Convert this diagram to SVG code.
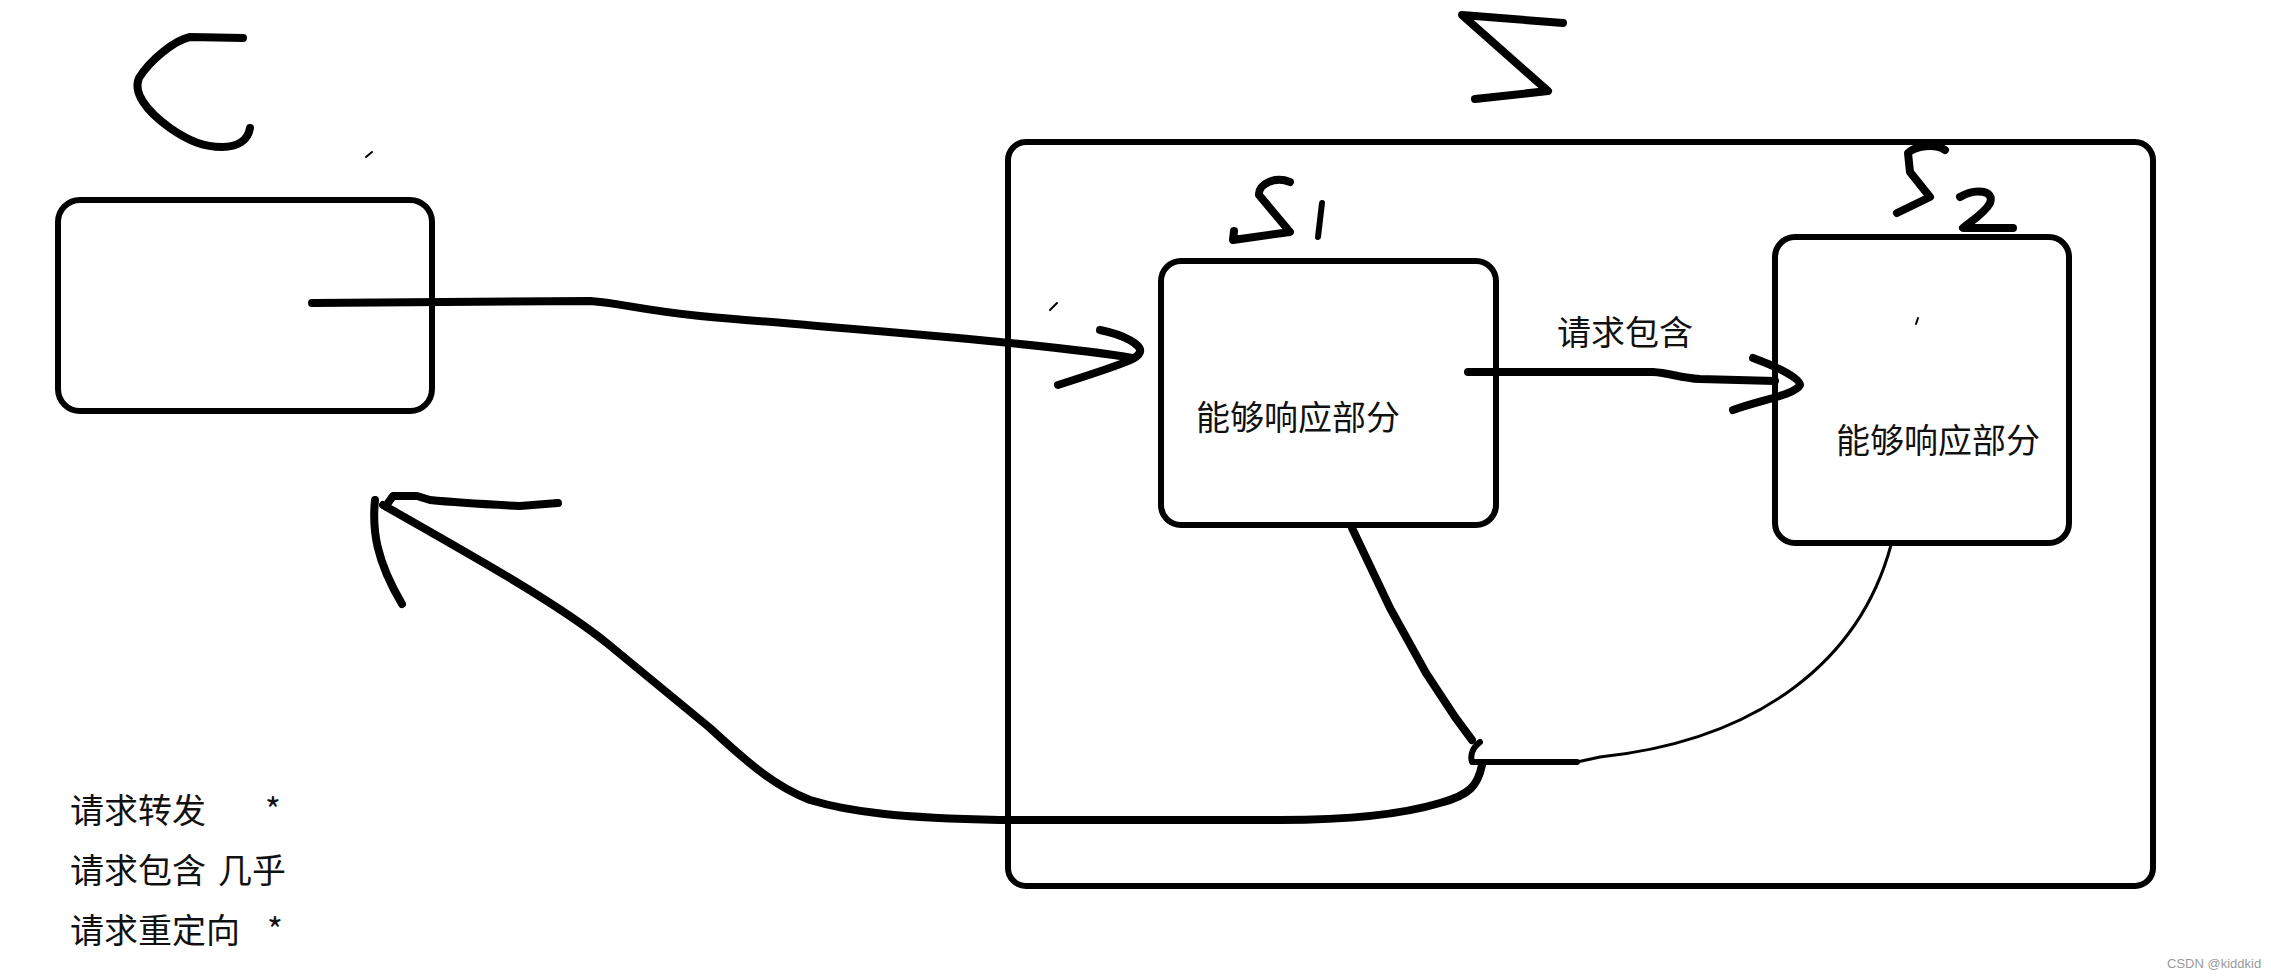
<svg xmlns="http://www.w3.org/2000/svg" width="2271" height="979" viewBox="0 0 2271 979">
<style>
.box{fill:none;stroke:#000;stroke-width:6}
.ink{fill:none;stroke:#000;stroke-linecap:round;stroke-linejoin:round}
.thick{stroke-width:8}
.mid{stroke-width:6}
.thin{stroke-width:3}
.hair{stroke-width:2}
.t{font-family:"Noto Sans CJK SC","Noto Sans",sans-serif;fill:#111;font-size:34px}
.wm{font-family:"Liberation Sans","DejaVu Sans",sans-serif;fill:#999;font-size:13px}
</style>
<rect width="2271" height="979" fill="#fff"/>
<g id="node-C">
<path class="ink thick" d="M243,38 L190,37 C175,40 150,60 139,78 C133,92 145,110 170,128 C190,142 205,147 222,147 C238,147 248,140 250,128"/>
<path class="ink hair" d="M366,157 L372,152"/>
<rect class="box" x="58" y="200" width="374" height="211" rx="22"/>
</g>
<g id="node-S">
<path class="ink thick" d="M1563,23 L1462,15 L1548,91 L1475,99"/>
<rect class="box" x="1008" y="142" width="1145" height="744" rx="18"/>
<path class="ink hair" d="M1050,310 L1057,303"/>
</g>
<g id="node-S1">
<path class="ink thick" d="M1290,182 C1275,176 1258,184 1259,195 L1290,232 L1233,240 L1234,231"/>
<path class="ink mid" d="M1322,203 L1318,237"/>
<rect class="box" x="1161" y="261" width="335" height="264" rx="20"/>
<text class="t" x="1196" y="430">能够响应部分</text>
</g>
<g id="node-S2">
<path class="ink thick" d="M1945,150 C1935,143 1915,146 1908,153 L1910,172 L1930,197 L1897,213"/>
<path class="ink thick" d="M1960,197 C1975,188 1995,190 1990,203 C1985,213 1970,222 1963,228 L2013,228"/>
<rect class="box" x="1775" y="237" width="294" height="306" rx="20"/>
<path class="ink hair" d="M1916,324 L1918,318"/>
<text class="t" x="1836" y="453">能够响应部分</text>
</g>
<g id="connectors">
<path class="ink thick" d="M312,303 L590,301 C620,303 640,310 700,316 C800,325 900,332 1000,342 C1060,348 1100,352 1132,358"/>
<path class="ink thick" d="M1100,330 C1125,335 1142,345 1140,352 C1138,358 1130,362 1058,385"/>
<text class="t" x="1557" y="345">请求包含</text>
<path class="ink thick" d="M1468,372 L1653,372 C1670,373 1680,378 1700,379 L1775,381"/>
<path class="ink thick" d="M1753,358 C1780,368 1800,378 1800,385 C1795,395 1760,400 1733,410"/>
<path class="ink thick" d="M1352,528 L1390,608 L1426,673 L1455,717 L1472,740"/>
<path class="ink mid" d="M1480,742 C1472,748 1470,756 1472,762 L1577,762"/>
<path class="ink thin" d="M1891,545 C1860,660 1760,740 1600,757 L1577,762"/>
<path class="ink thick" d="M1482,765 C1478,785 1470,795 1440,803 C1400,815 1350,820 1280,820 L1000,820 C900,818 850,812 810,800 C775,786 750,765 710,728 L608,644 C560,605 480,560 383,505"/>
<path class="ink thick" d="M375,500 C372,530 376,560 402,604"/>
<path class="ink thick" d="M388,503 L393,496 L417,496 L430,500 C460,503 500,505 520,506 L558,503"/>
</g>
<g id="legend">
<text class="t" x="70" y="823">请求转发</text>
<text class="t" x="265" y="823">*</text>
<text class="t" x="70" y="883">请求包含</text>
<text class="t" x="218" y="883">几乎</text>
<text class="t" x="70" y="943">请求重定向</text>
<text class="t" x="267" y="943">*</text>
</g>
<text class="wm" x="2167" y="968">CSDN @kiddkid</text>
</svg>
